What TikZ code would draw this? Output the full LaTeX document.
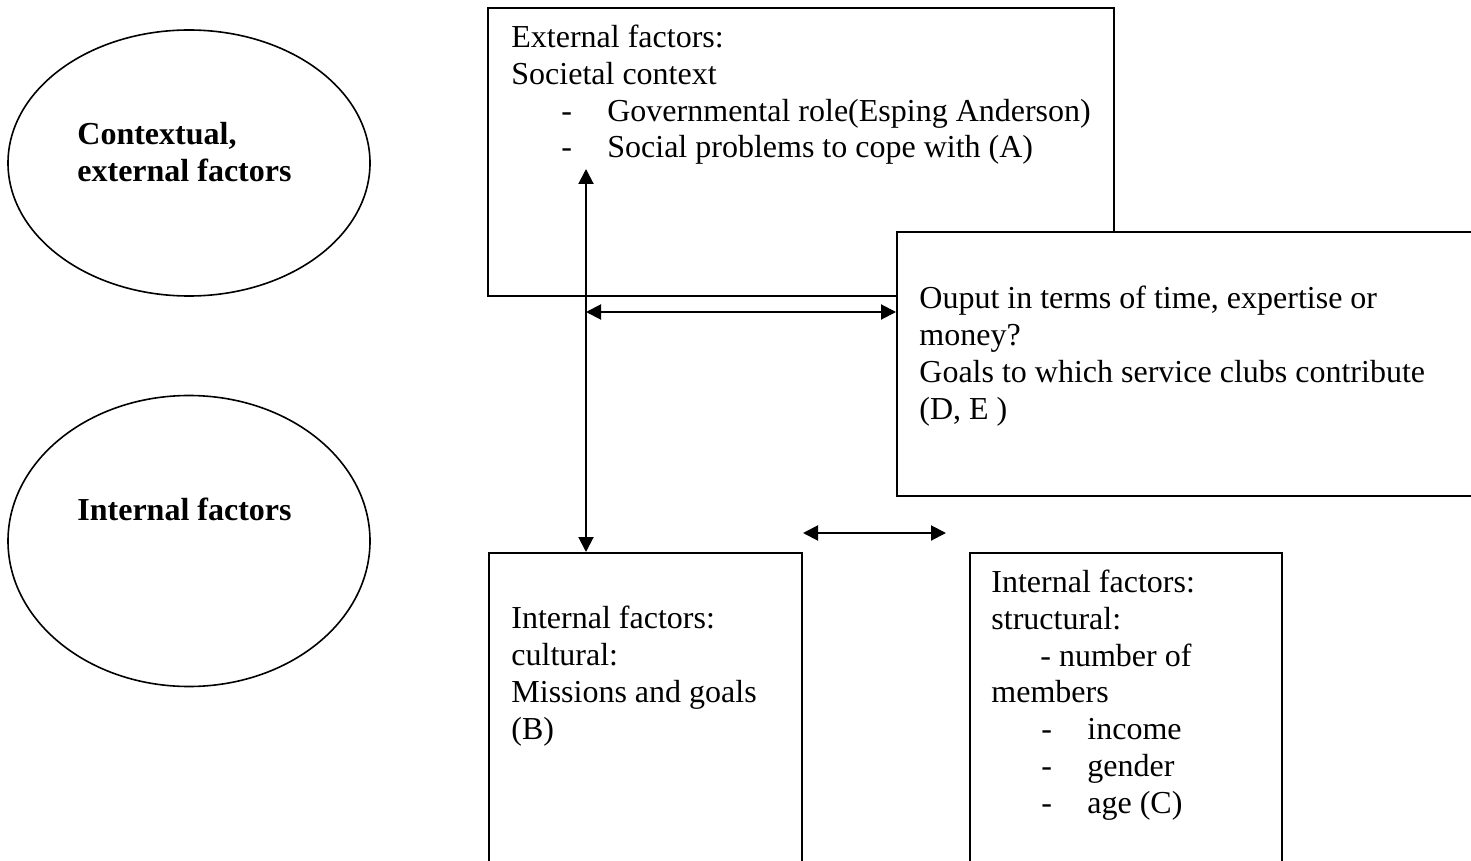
\documentclass[tikz,border=0pt]{standalone}
\usepackage{fontspec}
\setmainfont{Liberation Serif}
\usetikzlibrary{arrows.meta,shapes.geometric}
\newcommand{\itemdash}{\makebox[48pt][l]{\hspace{25pt}-}}
\begin{document}
\begin{tikzpicture}[x=0.5pt, y=-0.5pt,
  font=\fontsize{16}{18.35}\selectfont,
  oval/.style={draw, ellipse, line width=0.8pt, minimum width=181pt, inner sep=0pt},
  box/.style={draw, rectangle, line width=1pt, fill=white, inner sep=0pt},
  txt/.style={anchor=base west, align=left, inner sep=0pt},
  dblarrow/.style={line width=1pt, {Triangle[length=7.5pt,width=7.5pt]}-{Triangle[length=7.5pt,width=7.5pt]}}]
\useasboundingbox (0,0) rectangle (1471,861);
\clip (0,0) rectangle (1471,861);

\draw (189,163) node[oval, minimum height=133pt] (ctx) {};
\draw (189,541) node[oval, minimum height=145.5pt] (intl) {};
\draw (77,182) node[txt, font=\fontsize{16}{18.5}\selectfont\bfseries] (ctxT) {Contextual,\\external factors};
\draw (77,520) node[txt, font=\fontsize{16}{18.5}\selectfont\bfseries] (intlT) {Internal factors};

\draw (801,152) node[box, minimum width=313pt, minimum height=144pt] (ext) {};
\draw (1193.5,364) node[box, minimum width=296.5pt, minimum height=132pt] (out) {};
\draw (645.5,721.5) node[box, minimum width=156.5pt, minimum height=168.5pt] (cult) {};
\draw (1126,721.5) node[box, minimum width=156pt, minimum height=168.5pt] (struc) {};

\draw (511,158) node[txt] (extT) {External factors:\\Societal context\\
  \itemdash Governmental role(Esping Anderson)\\
  \itemdash Social problems to cope with (A)};
\draw (919,419) node[txt] (outT) {Ouput in terms of time, expertise or\\money?\\
  Goals to which service clubs contribute\\(D, E )};
\draw (511,739) node[txt] (cultT) {Internal factors:\\cultural:\\Missions and goals\\(B)};
\draw (991,813) node[txt] (strucT) {Internal factors:\\structural:\\
  \hspace{24.5pt}- number of\\members\\
  \itemdash income\\\itemdash gender\\\itemdash age (C)};

\coordinate (upA) at (586,169);
\coordinate (midA) at (586,312);
\coordinate (lowA) at (803,533);
\coordinate (lowB) at (946,533);
\draw[dblarrow] (upA) -- (upA |- cult.north);
\draw[dblarrow] (midA) -- (midA -| out.west);
\draw[dblarrow] (lowA) -- (lowB);
\end{tikzpicture}
\end{document}
